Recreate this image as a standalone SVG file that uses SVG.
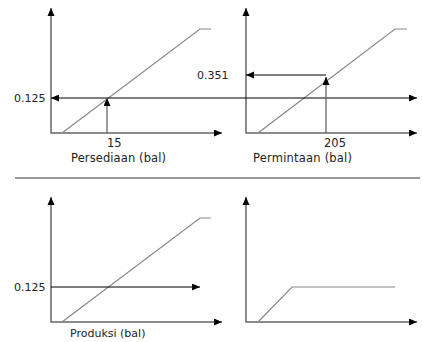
<svg xmlns="http://www.w3.org/2000/svg" width="422" height="342" viewBox="0 0 422 342">
<style>
.axis{stroke:#666;stroke-width:1.5;fill:none}
.curve{stroke:#888;stroke-width:1.2;fill:none}
.ptr{stroke:#000;stroke-width:1;fill:none}
.vptr{stroke:#666;stroke-width:1.3;fill:none}
text{font-family:"DejaVu Sans","Liberation Sans",sans-serif;font-size:11px;fill:#222}
.lbl{font-size:11.5px}
</style>
<defs>
<marker id="ah" markerUnits="userSpaceOnUse" markerWidth="9" markerHeight="8" refX="8" refY="3.5" orient="auto">
<path d="M0,0 L8,3.5 L0,7 z" fill="#000"/>
</marker>
<marker id="ahs" markerUnits="userSpaceOnUse" markerWidth="9" markerHeight="8" refX="0" refY="3.5" orient="auto">
<path d="M8,0 L0,3.5 L8,7 z" fill="#000"/>
</marker>
</defs>
<rect width="422" height="342" fill="#fff"/>
<g id="panel-persediaan">
<polyline class="axis" points="51,8 51,133 222,133" marker-start="url(#ahs)" marker-end="url(#ah)"/>
<polyline class="curve" points="62,133 200,29 211,29"/>
<text x="14" y="102">0.125</text>
<text class="lbl" x="107" y="147">15</text>
<text class="lbl" x="71" y="162" textLength="95" lengthAdjust="spacing">Persediaan (bal)</text>
</g>
<g id="panel-permintaan">
<polyline class="axis" points="246,8 246,133 417,133" marker-start="url(#ahs)" marker-end="url(#ah)"/>
<polyline class="curve" points="258,133 395,29 407,29"/>
<text x="197" y="79">0.351</text>
<text class="lbl" x="324" y="147">205</text>
<text class="lbl" x="253" y="162" textLength="99" lengthAdjust="spacing">Permintaan (bal)</text>
</g>
<line id="separator" x1="15" y1="178" x2="420" y2="178" stroke="#777" stroke-width="1.5"/>
<g id="panel-produksi">
<polyline class="axis" points="51,197 51,322 222,322" marker-start="url(#ahs)" marker-end="url(#ah)"/>
<polyline class="curve" points="62,322 200,218 211,218"/>
<text x="14" y="291">0.125</text>
<text x="70" y="337">Produksi (bal)</text>
</g>
<g id="panel-output">
<polyline class="axis" points="246,197 246,322 417,322" marker-start="url(#ahs)" marker-end="url(#ah)"/>
<polyline class="curve" points="258,322 292,287 395,287"/>
</g>
<g id="connectors">
<line class="ptr" x1="51" y1="98" x2="417" y2="98" marker-start="url(#ahs)" marker-end="url(#ah)"/>
<line class="vptr" x1="107" y1="133" x2="107" y2="98" marker-end="url(#ah)"/>
<line class="vptr" x1="326" y1="133" x2="326" y2="77" marker-end="url(#ah)"/>
<line class="ptr" x1="326" y1="75" x2="246" y2="75" marker-end="url(#ah)"/>
<line class="ptr" x1="51" y1="287" x2="200" y2="287" marker-end="url(#ah)"/>
</g>
</svg>
